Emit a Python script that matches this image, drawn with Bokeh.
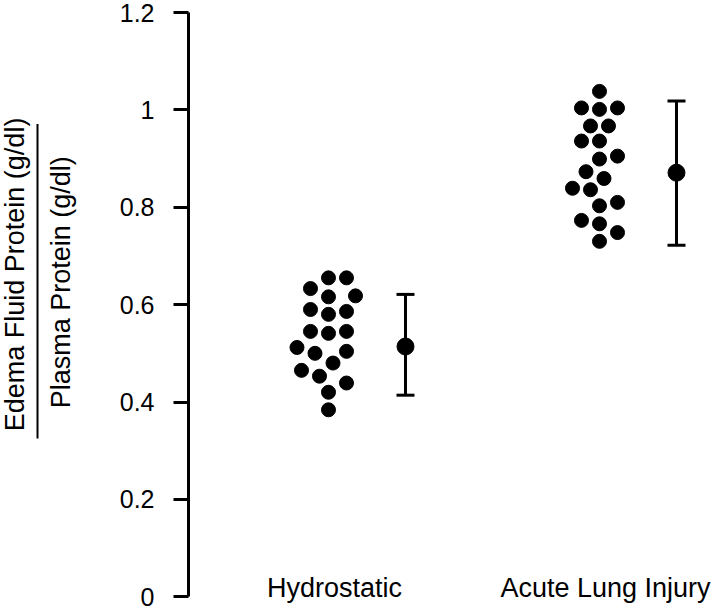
import math
from bokeh.plotting import figure
from bokeh.layouts import row
from bokeh.models import (Range1d, FixedTicker, NumeralTickFormatter,
                          Whisker, TeeHead, ColumnDataSource)
from bokeh.core.properties import value
from bokeh.embed import file_html
from bokeh.resources import INLINE

# ---------------- data ----------------
categories = ["Hydrostatic", "Acute Lung Injury"]
hydrostatic = [0.655, 0.655, 0.633, 0.616, 0.618, 0.590, 0.586, 0.580, 0.545, 0.541,
               0.545, 0.504, 0.500, 0.512, 0.480, 0.465, 0.453, 0.439, 0.420, 0.384]
acute_lung_injury = [1.038, 1.004, 1.001, 1.004, 0.967, 0.967, 0.936, 0.936, 0.905, 0.899,
                     0.873, 0.859, 0.839, 0.836, 0.803, 0.810, 0.773, 0.766, 0.748, 0.730]
group_mean = [0.514, 0.871]
group_upper = [0.621, 1.018]
group_lower = [0.414, 0.722]
y_ticks = [0, 0.2, 0.4, 0.6, 0.8, 1.0, 1.2]
y_label_top = "Edema Fluid Protein (g/dl)"
y_label_bottom = "Plasma Protein (g/dl)"

# ---------------- layout constants ----------------
LEFT_W = 100
FRAME_TOP = 12
FRAME_BOTTOM = 6
FRAME_W, FRAME_H = 532, 594
X0 = 0.4834
X1 = X0 + FRAME_W / 271.0
Y0, Y1 = -0.02, 1.2
XPX = FRAME_W / (X1 - X0)
YPX = FRAME_H / (Y1 - Y0)
FONT = "Liberation Sans"
DOT = 14
GAP = 17.5
STEP = 4.5


def swarm(vals):
    order = sorted(range(len(vals)), key=lambda i: vals[i])
    placed = []
    offs = [0.0] * len(vals)
    cands = [0]
    for k in range(1, 16):
        cands += [k * STEP, -k * STEP]
    for i in order:
        py = vals[i] * YPX
        for c in cands:
            if all((c - qx) ** 2 + (py - qy) ** 2 >= GAP ** 2 for qx, qy in placed):
                placed.append((c, py))
                offs[i] = c / XPX
                break
    return offs


y_range = Range1d(Y0, Y1)
TOTAL_H = FRAME_TOP + FRAME_H + FRAME_BOTTOM

# ---------------- left strip: fraction-style y label ----------------
lp = figure(width=LEFT_W, height=TOTAL_H, output_backend="svg",
            toolbar_location=None, title=None,
            x_range=Range1d(0, LEFT_W), y_range=y_range,
            min_border_left=0, min_border_right=0, min_border_top=FRAME_TOP,
            min_border_bottom=FRAME_BOTTOM)
lp.axis.visible = False
lp.grid.visible = False
lp.outline_line_color = None
lp.text(x=[14, 60], y=[0.662, 0.646], text=[y_label_top, y_label_bottom],
        angle=math.pi / 2, text_font=value(FONT), text_font_size="27px",
        text_color="black", text_align="center", text_baseline="middle")
lp.segment(x0=[37], y0=[0.325], x1=[37], y1=[0.971], line_width=2, line_color="black")

# ---------------- main plot ----------------
p = figure(width=88 + FRAME_W, height=TOTAL_H, output_backend="svg",
           toolbar_location=None, title=None,
           x_range=Range1d(X0, X1), y_range=y_range,
           min_border_left=88, min_border_right=0, min_border_top=FRAME_TOP,
           min_border_bottom=FRAME_BOTTOM)
p.outline_line_color = None
p.xgrid.visible = False
p.ygrid.visible = False
p.xaxis.visible = False
p.background_fill_color = "white"
p.border_fill_color = "white"

ax = p.yaxis[0]
ax.ticker = FixedTicker(ticks=y_ticks)
ax.formatter = NumeralTickFormatter(format="0.[0]")
ax.bounds = (0, 1.2)
ax.axis_line_width = 3
ax.axis_line_color = "black"
ax.major_tick_line_width = 3
ax.major_tick_line_color = "black"
ax.major_tick_out = 15
ax.major_tick_in = 0
ax.minor_tick_line_color = None
ax.major_label_standoff = 19
ax.major_label_text_font = FONT
ax.major_label_text_font_size = "25px"
ax.major_label_text_color = "black"

groups = [hydrostatic, acute_lung_injury]
centers = [1.0, 2.0]
ERR_OFF = 77 / XPX

for g, c in zip(groups, centers):
    offs = swarm(g)
    p.scatter(x=[c + o for o in offs], y=g, size=DOT, color="black")

err = ColumnDataSource(dict(x=[c + ERR_OFF for c in centers], mean=group_mean,
                            upper=group_upper, lower=group_lower))
p.add_layout(Whisker(base="x", upper="upper", lower="lower", source=err,
                     dimension="height", line_width=3, line_color="black",
                     upper_head=TeeHead(size=18, line_width=3, line_color="black"),
                     lower_head=TeeHead(size=18, line_width=3, line_color="black")))
p.scatter(x="x", y="mean", source=err, size=17, color="black")

p.text(x=[c + 0.022 for c in centers], y=[0.018, 0.018], text=categories,
       text_font=value(FONT), text_font_size="27px", text_color="black",
       text_align="center", text_baseline="middle")

layout = row(lp, p)
open("out.html", "w").write(file_html(layout, INLINE))
